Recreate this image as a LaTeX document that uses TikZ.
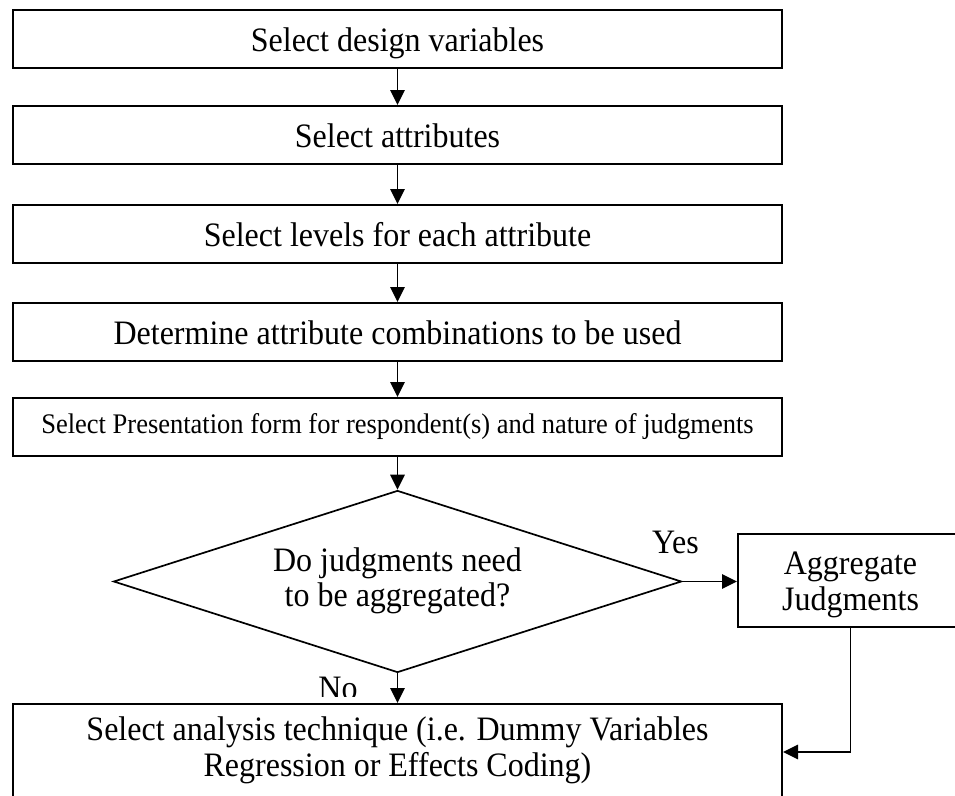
\documentclass[tikz,border=0pt]{standalone}
\usepackage{fontspec}
\usepackage{graphicx}
\setmainfont{Liberation Serif}
\usetikzlibrary{arrows.meta,shapes.geometric}
\newcommand\vs[1]{\scalebox{1}[1.07]{#1}}
\newcommand\twolines[2]{\vs{\begin{tabular}[b]{@{}c@{}}#1\\#2\end{tabular}}}
\begin{document}
\begin{tikzpicture}[x=1pt,y=-1pt,
  box/.style={draw, line width=2pt, minimum width=769pt, minimum height=58pt,
    inner sep=0pt, font=\fontsize{32}{36}\selectfont, text height=25.4pt, text depth=0pt},
  decision/.style={draw, diamond, line width=1.7pt, minimum width=568pt,
    minimum height=182pt, shape aspect=3.13, inner sep=0pt,
    font=\fontsize{32}{32}\selectfont, text height=49pt, text depth=0pt},
  conn/.style={line width=1.7pt, -{Triangle[length=15pt,width=14.5pt]}},
  lbl/.style={font=\fontsize{32}{36}\selectfont, inner sep=0pt}]
\useasboundingbox (0,0) rectangle (955,795);
\fill[white] (0,0) rectangle (955,795);
\clip (0,0) rectangle (955,795);

\node[box] (b1) at (397.5,39) {\vs{Select design variables}};
\node[box] (b2) at (397.5,135) {\vs{Select attributes}};
\node[box] (b3) at (397.5,234) {\vs{Select levels for each attribute}};
\node[box] (b4) at (397.5,332) {\vs{Determine attribute combinations to be used}};
\node[box, font=\fontsize{26.5}{30}\selectfont, text height=12.6pt] (b5) at (397.5,427)
  {\vs{Select Presentation form for respondent(s) and nature of judgments}};
\node[decision] (dec) at (397.5,581.5) {\twolines{Do judgments need}{to be aggregated?}};
\node[box, minimum width=225pt, minimum height=93pt, font=\fontsize{32}{33.4}\selectfont,
  text height=59pt] (agg) at (850.5,580.5)
  {\twolines{Aggregate}{Judgments}};
\node[box, minimum height=96pt, font=\fontsize{32}{34.3}\selectfont, text height=49.4pt] (fin) at (397.5,752)
  {\twolines{Select analysis technique (i.e. Dummy Variables}{Regression or Effects Coding)}};

\node[lbl, anchor=base] (yes) at (675.5,553) {\vs{Yes}};
\begin{scope}
  \clip (290,640) rectangle (390,696.5);
  \node[lbl, anchor=base] (no) at (338,699) {\vs{No}};
\end{scope}

\draw[conn] (b1) -- (b2);
\draw[conn] (b2) -- (b3);
\draw[conn] (b3) -- (b4);
\draw[conn] (b4) -- (b5);
\draw[conn] (b5) -- (dec);
\draw[conn] (dec.east) -- (dec.east -| agg.west);
\draw[conn] (dec.south) -- (fin);
\draw[conn] (agg.south) |- (fin.east);
\end{tikzpicture}
\end{document}
